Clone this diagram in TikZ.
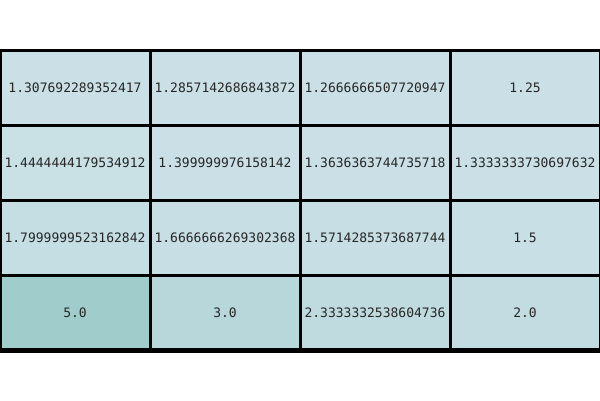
\documentclass[tikz,border=0pt]{standalone}
\usepackage{fontspec}
\newfontfamily\cellfont{DejaVu Sans Mono}
\definecolor{lo}{HTML}{CAE0E6}
\definecolor{hi}{HTML}{A0CCCC}
\tikzset{
  cell/.style={draw=black, line width=3pt, rectangle, minimum width=150pt, minimum height=75pt,
    inner sep=0pt, outer sep=0pt, font=\cellfont\fontsize{13}{15}\selectfont, text=black!85},
}
\begin{document}
\begin{tikzpicture}[x=1pt,y=-1pt]
\useasboundingbox (0,0) rectangle (600,400);
\fill[white] (0,0) rectangle (600,400);
% row 1
\node[cell, fill=lo] (c11) at (75,87.5) {1.307692289352417};
\node[cell, fill=lo] (c12) at (225,87.5) {1.2857142686843872};
\node[cell, fill=lo] (c13) at (375,87.5) {1.2666666507720947};
\node[cell, fill=lo] (c14) at (525,87.5) {1.25};
% row 2
\node[cell, fill=hi!2!lo] (c21) at (75,162.5) {1.4444444179534912};
\node[cell, fill=hi!1!lo] (c22) at (225,162.5) {1.399999976158142};
\node[cell, fill=hi!1!lo] (c23) at (375,162.5) {1.3636363744735718};
\node[cell, fill=hi!1!lo] (c24) at (525,162.5) {1.3333333730697632};
% row 3
\node[cell, fill=hi!12!lo] (c31) at (75,237.5) {1.7999999523162842};
\node[cell, fill=hi!8!lo] (c32) at (225,237.5) {1.6666666269302368};
\node[cell, fill=hi!6!lo] (c33) at (375,237.5) {1.5714285373687744};
\node[cell, fill=hi!5!lo] (c34) at (525,237.5) {1.5};
% row 4
\node[cell, fill=hi] (c41) at (75,312.5) {5.0};
\node[cell, fill=hi!46!lo] (c42) at (225,312.5) {3.0};
\node[cell, fill=hi!25!lo] (c43) at (375,312.5) {2.3333332538604736};
\node[cell, fill=hi!18!lo] (c44) at (525,312.5) {2.0};
\draw[line width=5pt] (c41.south west) -- (c44.south east);
\end{tikzpicture}
\end{document}
